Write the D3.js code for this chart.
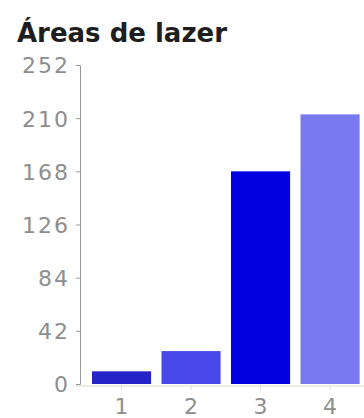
<!DOCTYPE html>
<html><head><meta charset="utf-8">
<script src="https://cdn.jsdelivr.net/npm/d3@7"></script>
<style>html,body{margin:0;padding:0;background:#fff;}</style>
</head><body>
<svg id="c" width="364" height="418"></svg>
<script>
const title = "Áreas de lazer";
const categories = ["1", "2", "3", "4"];
const values = [10, 26, 168, 213];
const colors = ["#2424c8", "#4848e8", "#0000e0", "#7a7af0"];
const yTicks = [0, 42, 84, 126, 168, 210, 252];

const svg = d3.select("#c");
const y = d3.scaleLinear().domain([0, 252]).range([384, 65]);
const x = d3.scaleBand().domain(categories).range([92, 359.6]).paddingInner(0.15).paddingOuter(0);

svg.append("text").attr("x", 17).attr("y", 42)
  .attr("font-family", "DejaVu Sans").attr("font-weight", "bold")
  .attr("font-size", 26).attr("fill", "#1e1e1e").text(title);

// x baseline
svg.append("line").attr("x1", 76).attr("x2", 364).attr("y1", 386).attr("y2", 386)
  .attr("stroke", "#e6e6d8").attr("stroke-width", 1.5);

svg.append("g").selectAll("rect").data(values).join("rect")
  .attr("x", (d, i) => x(categories[i]))
  .attr("width", x.bandwidth())
  .attr("y", d => y(d))
  .attr("height", d => y(0) - y(d))
  .attr("fill", (d, i) => colors[i]);

const ya = svg.append("g").attr("transform", "translate(80,0)")
  .call(d3.axisLeft(y).tickValues(yTicks).tickSize(4).tickPadding(6));
ya.select(".domain").attr("stroke", "#999");
ya.selectAll(".tick line").attr("stroke", "#999");
ya.selectAll("text").attr("font-family", "DejaVu Sans").attr("font-size", 22)
  .attr("letter-spacing", 2).attr("fill", "#8e8e8e").attr("dy", "0.36em");

const xa = svg.append("g").attr("transform", "translate(0,386)")
  .call(d3.axisBottom(x).tickSize(4).tickPadding(8));
xa.select(".domain").remove();
xa.selectAll(".tick line").attr("stroke", "#ddd");
xa.selectAll("text").attr("font-family", "DejaVu Sans").attr("font-size", 22)
  .attr("fill", "#8e8e8e");
</script>
</body></html>
